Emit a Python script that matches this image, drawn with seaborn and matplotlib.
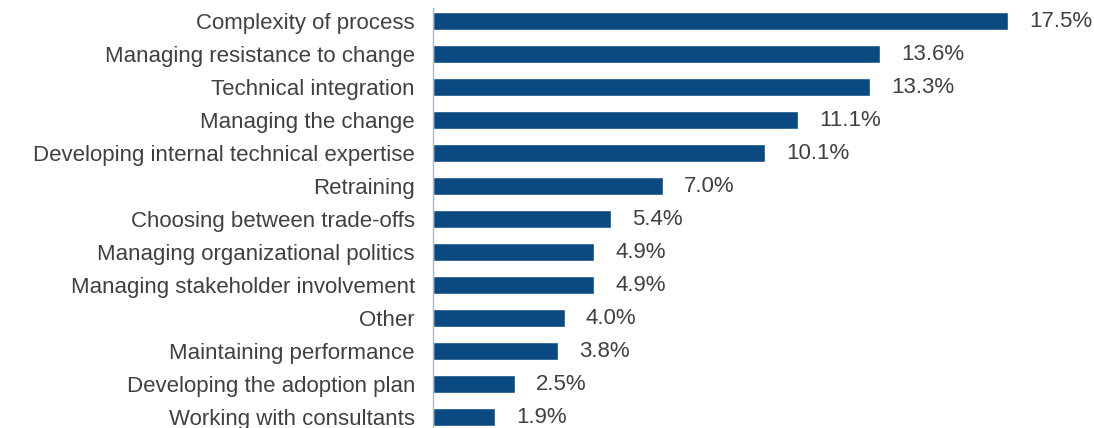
import matplotlib
matplotlib.use("Agg")
import matplotlib.pyplot as plt
import seaborn as sns
import pandas as pd

categories = ["Complexity of process", "Managing resistance to change", "Technical integration",
              "Managing the change", "Developing internal technical expertise", "Retraining",
              "Choosing between trade-offs", "Managing organizational politics",
              "Managing stakeholder involvement", "Other", "Maintaining performance",
              "Developing the adoption plan", "Working with consultants"]
values = [17.5, 13.6, 13.3, 11.1, 10.1, 7.0, 5.4, 4.9, 4.9, 4.0, 3.8, 2.5, 1.9]
value_labels = ["17.5%", "13.6%", "13.3%", "11.1%", "10.1%", "7.0%", "5.4%", "4.9%",
                "4.9%", "4.0%", "3.8%", "2.5%", "1.9%"]

sns.set_style("white")
plt.rcParams['font.family'] = ['Liberation Sans', 'DejaVu Sans']

FS = 16
df = pd.DataFrame({"cat": categories, "val": values})
fig = plt.figure(figsize=(10.94, 4.28), dpi=100)
ax = fig.add_axes([433/1094, 0, 1 - 433/1094, 1 - 8/428])
sns.barplot(data=df, x="val", y="cat", orient="h", color="#0B4A80", width=0.52,
            saturation=1, ax=ax)
ax.set_xlim(0, 20.1)
ax.set_ylim(12 + 11/33, -13/33)
for i, (v, lab) in enumerate(zip(values, value_labels)):
    ax.text(v + 0.64, i + 0.03, lab, va="center", ha="left", fontsize=FS, color="#404040")
ax.set_xlabel("")
ax.set_ylabel("")
ax.set_xticks([])
for s in ["top", "right", "bottom"]:
    ax.spines[s].set_visible(False)
ax.spines["left"].set_color("#A9B8C8")
ax.spines["left"].set_linewidth(1.0)
ax.tick_params(axis="y", length=0, pad=13, labelsize=FS, labelcolor="#404040")
fig.savefig("out.png", dpi=100)
